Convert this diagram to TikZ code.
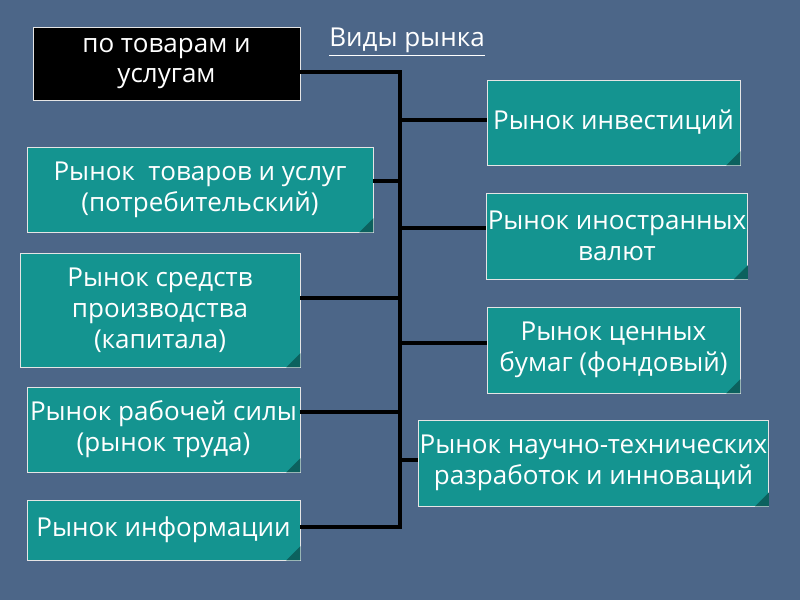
\documentclass[tikz,border=0pt]{standalone}
\usepackage{fontspec}
\setmainfont{Open Sans}
\usetikzlibrary{positioning}
\definecolor{bgblue}{HTML}{4C6688}
\definecolor{teal}{HTML}{149490}
\definecolor{tealdark}{HTML}{0C615E}
\begin{document}
\begin{tikzpicture}[x=0.025cm,y=-0.025cm]
    \tikzstyle{box}=[draw=white!80!gray,line width=0.4pt,fill=teal,text=white,align=center,inner sep=1pt,font=\fontsize{18.5}{22}\selectfont];
    \tikzstyle{link}=[draw=black,line width=3.5pt];
    \fill[bgblue] (0,0) rectangle (800,600);
    \useasboundingbox (0,0) rectangle (800,600);

    \node[box,fill=black,minimum width=267*0.025cm,minimum height=73*0.025cm] at (166.5,63.5) (kind) {по товарам и\\ услугам};
    \node[text=white,font=\fontsize{18.5}{22}\selectfont,inner sep=1pt] at (407,42) (title) {\underline{Виды рынка}};

    \node[box,minimum width=346*0.025cm,minimum height=85*0.025cm] at (200,189.5) (goods) {Рынок \ товаров и услуг\\(потребительский)};
    \node[box,minimum width=280*0.025cm,minimum height=114*0.025cm] at (160,310) (capital) {Рынок средств\\производства\\(капитала)};
    \node[box,minimum width=273*0.025cm,minimum height=85*0.025cm] at (163.5,429.5) (labour) {Рынок рабочей силы\\(рынок труда)};
    \node[box,minimum width=273*0.025cm,minimum height=60*0.025cm] at (163.5,530) (info) {Рынок информации};

    \node[box,minimum width=253*0.025cm,minimum height=85*0.025cm] at (613.5,122.5) (invest) {Рынок инвестиций};
    \node[box,minimum width=260*0.025cm,minimum height=86*0.025cm] at (617,236) (currency) {Рынок иностранных\\валют};
    \node[box,minimum width=253*0.025cm,minimum height=86*0.025cm] at (613.5,350) (stock) {Рынок ценных\\бумаг (фондовый)};
    \node[box,minimum width=347*0.025cm,minimum height=86*0.025cm] at (593.5,463) (science) {Рынок научно-технических\\разработок и инноваций};

    % folded corners
    \foreach \n in {goods,capital,labour,info,invest,currency,stock,science}
        \fill[tealdark] (\n.south east) -- ++(0,-14) -- ++(-14,14) -- cycle;

    \coordinate (top) at (400,72);
    \coordinate (bottom) at (400,527);
    \draw[link] (kind.east |- top) -- (top) -- (bottom) -- (info.east |- bottom);
    \draw[link] (400,181) -- (goods.east |- 0,181);
    \draw[link] (400,298) -- (capital.east |- 0,298);
    \draw[link] (400,412) -- (labour.east |- 0,412);
    \draw[link] (400,120) -- (invest.west |- 0,120);
    \draw[link] (400,228) -- (currency.west |- 0,228);
    \draw[link] (400,343) -- (stock.west |- 0,343);
    \draw[link] (400,460) -- (science.west |- 0,460);
\end{tikzpicture}
\end{document}
